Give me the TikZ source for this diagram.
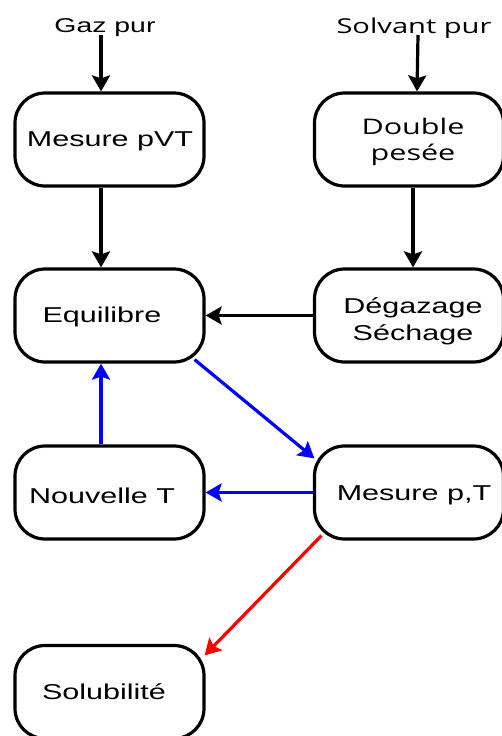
\documentclass[tikz,border=0pt]{standalone}
\usepackage{fontspec}
\setmainfont{Liberation Sans}
\newfontfamily\opensans{Open Sans}
\usetikzlibrary{arrows.meta}
\newcommand{\hs}[1]{\scalebox{1.42}[1]{#1}}
\begin{document}
\begin{tikzpicture}[x=1pt,y=-1pt,
  box/.style={draw, line width=3.2pt, rounded corners=30pt, minimum width=189pt, minimum height=93pt, inner sep=0pt},
  lbl/.style={font=\fontsize{21.5}{27}\selectfont, align=center, inner sep=0pt},
  arr/.style={line width=3.2pt, -{Stealth[length=16pt,width=18pt,inset=3pt]}}]
\useasboundingbox (0,0) rectangle (501,736);
% boxes
\node[box] (m) at (109.5,139.5) {};
\node[box] (d) at (409,139.5) {};
\node[box] (e) at (109.5,315.5) {};
\node[box] (g) at (409,315.5) {};
\node[box] (n) at (109.5,492.5) {};
\node[box] (p) at (409,492.5) {};
\node[box] (s) at (109.5,692) {};
% labels
\node[lbl] (mt) at (110,141) {\hs{Mesure pVT}};
\node[lbl, font=\opensans\fontsize{21.5}{26}\selectfont] (dt) at (413,142) {\hs{Double}\\\hs{pesée}};
\node[lbl] (et) at (102,317) {\hs{Equilibre}};
\node[lbl] (gt) at (413,321) {\hs{Dégazage}\\\hs{Séchage}};
\node[lbl] (nt) at (102,496) {\hs{Nouvelle T}};
\node[lbl] (pt) at (414,495) {\hs{Mesure p,T}};
\node[lbl] (st) at (104,692) {\hs{Solubilité}};
% inputs
\node[lbl, font=\fontsize{20}{24}\selectfont] (gaz) at (105,28) {\hs{Gaz pur}};
\node[lbl, font=\opensans\fontsize{20.5}{24}\selectfont] (sol) at (414,28) {\hs{Solvant pur}};
\coordinate (ga) at (101,35);
\coordinate (sa) at (418,35);
% connectors
\draw[arr] (ga) -- (ga |- m.north);
\draw[arr] (sa) -- ([xshift=8pt]d.north);
\draw[arr] ([xshift=-8.5pt]m.south) -- ([xshift=-8.5pt]e.north);
\draw[arr] ([xshift=4pt]d.south) -- ([xshift=4pt]g.north);
\draw[arr] (g.west) -- (e.east);
\draw[arr, blue] ([shift={(-11,-4)}]e.south east) -- ([shift={(1.5,14)}]p.north west);
\draw[arr, blue] ([xshift=-8.5pt]n.north) -- ([xshift=-8.5pt]e.south);
\draw[arr, blue] (p.west) -- (n.east);
\draw[arr, red] ([shift={(8.5,-5)}]p.south west) -- ([shift={(-1,11.5)}]s.north east);
\end{tikzpicture}
\end{document}
